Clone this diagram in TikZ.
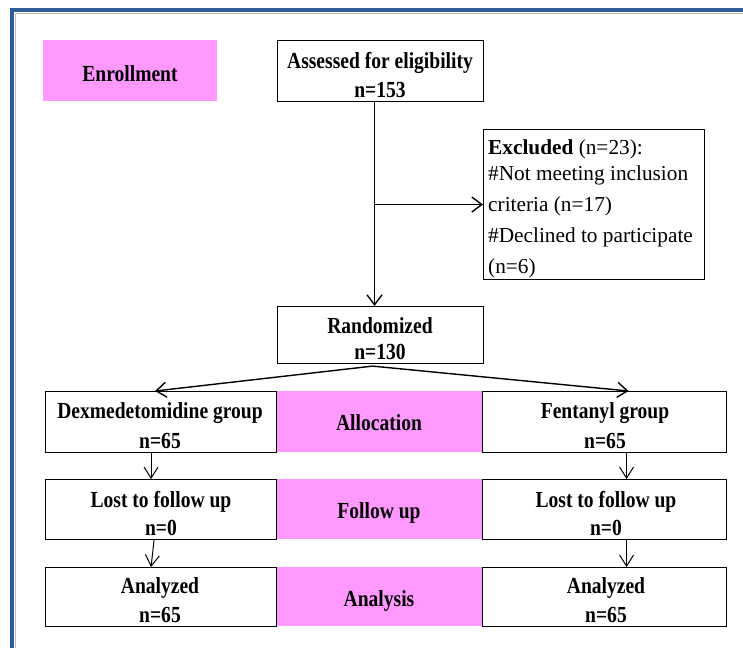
\documentclass[tikz,border=0pt]{standalone}
\usepackage{fontspec}
\setmainfont{Liberation Serif}
\newfontfamily\condf[FakeStretch=0.85]{Liberation Serif}
\usetikzlibrary{arrows.meta}
\definecolor{pinkc}{RGB}{255,153,255}
\definecolor{framec}{RGB}{46,92,150}
\begin{document}
\begin{tikzpicture}[x=1pt,y=-1pt,
  box/.style={draw=black, line width=1.1pt, inner sep=0pt, anchor=north west},
  pinkbox/.style={fill=pinkc, inner sep=0pt, anchor=north west},
  lbl/.style={font=\condf\bfseries\fontsize{23}{27}\selectfont, anchor=base, inner sep=0pt},
  exl/.style={font=\fontsize{21.3}{25}\selectfont, anchor=base west, inner sep=0pt},
  arr/.style={-{Straight Barb[length=10pt,width=15pt]}, line width=1.4pt},
  arrthin/.style={-{Straight Barb[length=11pt,width=14pt]}, line width=1pt}]
\useasboundingbox (0,0) rectangle (743,648);
\fill[white] (0,0) rectangle (743,648);
% frame
\draw[gray!55, line width=1pt] (15,648) -- (15,13) -- (743,13);
\draw[framec, line width=4pt, line join=miter] (12,648) -- (12,10) -- (743,10);

% pink stage boxes
\node[pinkbox, minimum width=174pt, minimum height=61pt] (enroll) at (43,40) {};
\node[pinkbox, minimum width=206pt, minimum height=61pt] (alloc) at (276,391) {};
\node[pinkbox, minimum width=206pt, minimum height=60pt] (follow) at (276,479) {};
\node[pinkbox, minimum width=206pt, minimum height=59pt] (analysis) at (276,567) {};

% boxes
\node[box, minimum width=206pt, minimum height=61pt] (assess) at (277,40) {};
\node[box, minimum width=221pt, minimum height=150pt] (excl) at (483,129) {};
\node[box, minimum width=206pt, minimum height=57pt] (rand) at (277,306) {};
\node[box, minimum width=231pt, minimum height=61pt] (dex) at (45,391) {};
\node[box, minimum width=244pt, minimum height=61pt] (fen) at (482,391) {};
\node[box, minimum width=231pt, minimum height=60pt] (lostL) at (45,479) {};
\node[box, minimum width=244pt, minimum height=60pt] (lostR) at (482,479) {};
\node[box, minimum width=231pt, minimum height=59pt] (anaL) at (45,567) {};
\node[box, minimum width=244pt, minimum height=59pt] (anaR) at (482,567) {};

% labels
\node[lbl] (t-enroll) at (130,81) {Enrollment};
\node[lbl] (t-assess1) at (380,68) {Assessed for eligibility};
\node[lbl] (t-assess2) at (380,97) {n=153};
\node[exl] (t-ex1) at (488,154) {\textbf{Excluded} (n=23):};
\node[exl] (t-ex2) at (488,180) {\#Not meeting inclusion};
\node[exl] (t-ex3) at (488,211) {criteria (n=17)};
\node[exl] (t-ex4) at (488,242) {\#Declined to participate};
\node[exl] (t-ex5) at (488,273) {(n=6)};
\node[lbl] (t-rand1) at (380,333) {Randomized};
\node[lbl] (t-rand2) at (380,359) {n=130};
\node[lbl] (t-dex1) at (160,418) {Dexmedetomidine group};
\node[lbl] (t-dex2) at (160,448) {n=65};
\node[lbl] (t-alloc) at (379,430) {Allocation};
\node[lbl] (t-fen1) at (605,418) {Fentanyl group};
\node[lbl] (t-fen2) at (605,448) {n=65};
\node[lbl] (t-lostL1) at (161,507) {Lost to follow up};
\node[lbl] (t-lostL2) at (161,535) {n=0};
\node[lbl] (t-follow) at (379,518) {Follow up};
\node[lbl] (t-lostR1) at (606,507) {Lost to follow up};
\node[lbl] (t-lostR2) at (606,535) {n=0};
\node[lbl] (t-anaL1) at (160,593) {Analyzed};
\node[lbl] (t-anaL2) at (160,622) {n=65};
\node[lbl] (t-analysis) at (379,606) {Analysis};
\node[lbl] (t-anaR1) at (606,593) {Analyzed};
\node[lbl] (t-anaR2) at (606,622) {n=65};

% connectors
\draw[arr] ([xshift=-6pt]assess.south) -- ([xshift=-6pt]rand.north);
\coordinate (br) at ([xshift=-6pt]assess.south |- excl.west);
\draw[arr] (br) -- (excl.west);
\coordinate (apex) at ([xshift=-8pt,yshift=-2pt]rand.south);
\draw[arr] (apex) -- ([xshift=-6pt]dex.north);
\draw[arr] (apex) -- ([xshift=24pt]fen.north);
\draw[arrthin] ([xshift=-10pt]dex.south) -- ([xshift=-10pt]lostL.north);
\draw[arrthin] ([xshift=-7pt]lostL.south) -- ([xshift=-10pt]anaL.north);
\draw[arrthin] ([xshift=22pt]fen.south) -- ([xshift=22pt]lostR.north);
\draw[arrthin] ([xshift=22pt]lostR.south) -- ([xshift=22pt]anaR.north);
\end{tikzpicture}
\end{document}
